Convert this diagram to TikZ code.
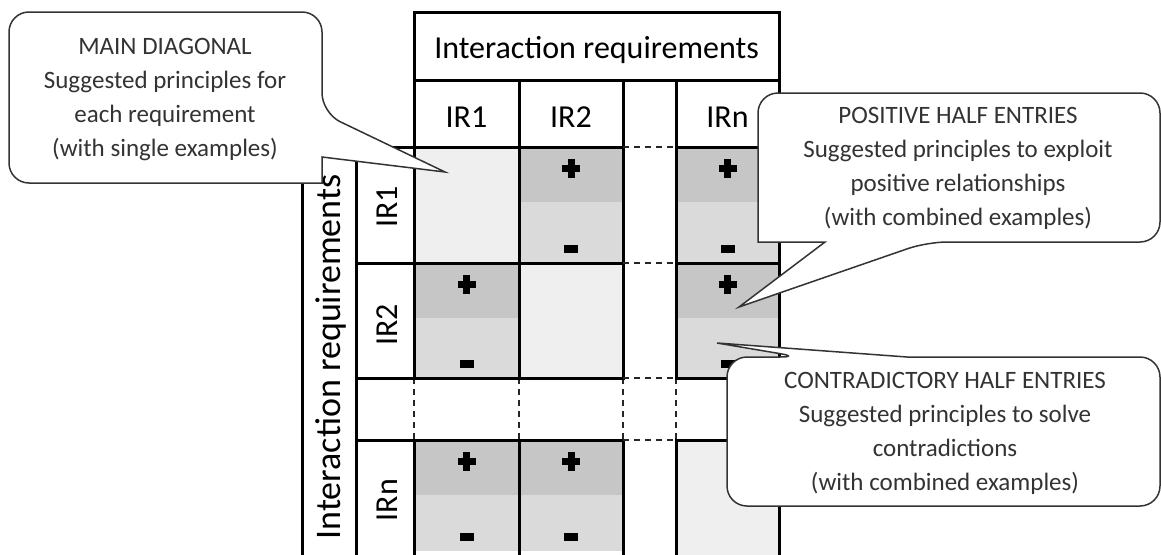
\documentclass[tikz,border=0pt]{standalone}
\usepackage{fontspec}
\setmainfont{Carlito}
\usepackage{xcolor}
\usepackage{tikz}
\usetikzlibrary{positioning}

\definecolor{diaggray}{HTML}{EFEFEF}
\definecolor{posgray}{HTML}{C6C6C6}
\definecolor{neggray}{HTML}{DADADA}
\definecolor{notegray}{HTML}{333333}

\tikzset{
    cellline/.style={line width=3pt, line cap=rect},
    gapline/.style={line width=1.5pt, dash pattern=on 6pt off 5pt, black!85},
    callout/.style={draw=notegray, fill=white, line width=1.5pt},
    bigtext/.style={font=\fontsize{32}{38}\selectfont, anchor=base},
    notetext/.style={font=\fontsize{25}{34}\selectfont, text=notegray, align=center},
}

% cella con mezza parte positiva e mezza negativa
\newcommand{\relcell}[4]{%
    \pgfmathsetmacro\cellmid{(#1+#2)/2}
    \fill[posgray] (#1,#3) rectangle (#2,#3+55);
    \fill[neggray] (#1,#3+55) rectangle (#2,#4);
    \fill (\cellmid-9,#3+17.5) rectangle (\cellmid+9,#3+24.5);
    \fill (\cellmid-3.5,#3+11.5) rectangle (\cellmid+3.5,#3+30.5);
    \fill (\cellmid-7,#4-18) rectangle (\cellmid+7,#4-10);
}

\begin{document}
\begin{tikzpicture}[x=1pt, y=-1pt]
        \useasboundingbox (0,0) rectangle (1161,554);
        \clip (0,0) rectangle (1161,554);

        % Diagonale
        \fill[diaggray] (414,147) rectangle (519,263);
        \fill[diaggray] (519,263) rectangle (623,378);
        \fill[diaggray] (676,440) rectangle (779,560);

        % Mezze celle
        \relcell{519}{623}{147}{263}
        \relcell{676}{779}{147}{263}
        \relcell{414}{519}{263}{378}
        \relcell{676}{779}{263}{378}
        \relcell{414}{519}{440}{551}
        \relcell{519}{623}{440}{551}

        % Griglia
        \draw[cellline] (414,12) rectangle (779,80);
        \draw[cellline] (302,147) -- (302,560);
        \draw[cellline] (356,147) -- (356,560);
        \foreach \x in {414,519,623,676,779} {
            \draw[cellline] (\x,80) -- (\x,378);
            \draw[cellline] (\x,440) -- (\x,560);
            \draw[gapline] (\x,378) -- (\x,440);
        }
        \draw[cellline] (302,147) -- (356,147);
        \foreach \y in {147,263,378,440} {
            \draw[cellline] (356,\y) -- (623,\y);
            \draw[cellline] (676,\y) -- (779,\y);
            \draw[gapline] (623,\y) -- (676,\y);
        }

        % Etichette
        \node[bigtext] (header) at (596.5,58) {Interaction requirements};
        \node[bigtext] (colone) at (466.5,127) {IR1};
        \node[bigtext] (coltwo) at (571,127) {IR2};
        \node[bigtext] (coln) at (727.5,127) {IRn};
        \node[bigtext, rotate=90] (rowone) at (397,207) {IR1};
        \node[bigtext, rotate=90] (rowtwo) at (397,325) {IR2};
        \node[bigtext, rotate=90] (rown) at (397,500) {IRn};
        \node[bigtext, rotate=90, font=\fontsize{36}{40}\selectfont] (rowhead) at (340,357) {Interaction requirements};

        % Fumetti
        \draw[callout] (165,12) [rounded corners=20pt] -- (322,12) -- (322,113)
            [sharp corners] -- (445,172) -- (322,157) -- (322,183)
            [rounded corners=20pt] -- (9,183) -- (9,12) -- cycle;
        \node[notetext] (diagnote) at (165,100) {MAIN DIAGONAL\\Suggested principles for\\each requirement\\(with single examples)};

        \draw[callout] (958,93) [rounded corners=20pt] -- (1160,93) -- (1160,242) -- (927,242)
            [sharp corners] -- (739,307) -- (825,242) -- (758,242)
            [rounded corners=20pt] -- (758,93) -- cycle;
        \node[notetext] (posnote) at (958,168) {POSITIVE HALF ENTRIES\\Suggested principles to exploit\\positive relationships\\(with combined examples)};

        \draw[callout] (1000,357) [rounded corners=20pt] -- (1160,357) -- (1160,506) -- (727,506) -- (727,357) -- (800,357)
            [sharp corners] -- (717,343) -- (907,357) -- cycle;
        \node[notetext] (contranote) at (945,433) {CONTRADICTORY HALF ENTRIES\\Suggested principles to solve\\contradictions\\(with combined examples)};
    \end{tikzpicture}
\end{document}
